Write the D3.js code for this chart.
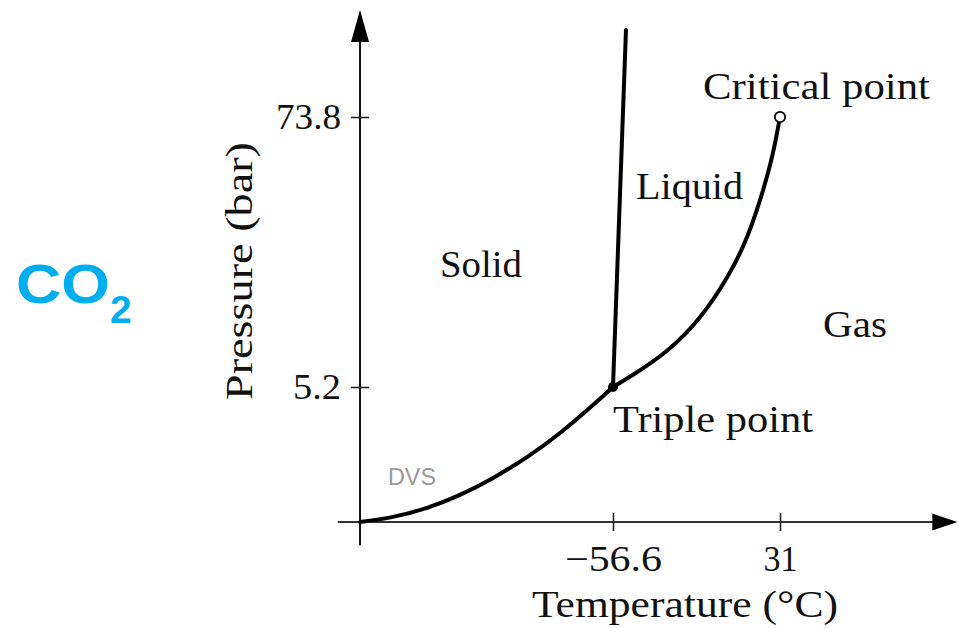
<!DOCTYPE html>
<html><head><meta charset="utf-8">
<script src="https://cdn.jsdelivr.net/npm/d3@7"></script>
<style>body{margin:0;background:#fff}svg{display:block}</style>
</head><body><svg id="c" width="959" height="628"></svg>
<script>
// ---- data ----
const xTickValues = [-56.6, 31];
const xTickLabels = ["\u221256.6", "31"];
const yTickValues = [5.2, 73.8];
const yTickLabels = ["5.2", "73.8"];
// sublimation curve (solid-gas)
const sublimationT = [-189.3, -172.0, -154.2, -136.9, -119.5, -101.7, -84.4, -67.1, -56.6];
const sublimationP = [-29.1, -27.8, -25.5, -22.2, -17.9, -12.6, -6.5, 0.6, 5.2];
// vaporization curve (liquid-gas)
const vaporT = [-56.6, -46.1, -28.3, -11.0, 3.2, 13.7, 22.1, 27.3, 31];
const vaporP = [5.2, 8.3, 14.4, 22.9, 33.0, 43.3, 55.2, 64.7, 73.8];
// melting line (solid-liquid)
const meltingT = [-56.6, -49.8];
const meltingP = [5.2, 95.9];
const triplePoint = [-56.6, 5.2];
const criticalPoint = [31, 73.8];
// axis extents: [start, origin, end]
const axisT = [-201, -189.3, 124];
const axisP = [-35, -29.1, 101];

// ---- layout ----
const svg = d3.select("#c");
const x = d3.scaleLinear().domain([-56.6, 31]).range([613, 780]);
const y = d3.scaleLinear().domain([5.2, 73.8]).range([387, 117]);
const serif = "'Liberation Serif','Times New Roman',serif";
const ink = "#111";

const ox = x(axisT[1]), oy = y(axisP[1]);

// axes lines
svg.append("line").attr("x1", x(axisT[0])).attr("x2", x(axisT[2]) - 20)
  .attr("y1", oy).attr("y2", oy).attr("stroke", "#333").attr("stroke-width", 2);
svg.append("line").attr("x1", ox).attr("x2", ox)
  .attr("y1", y(axisP[0])).attr("y2", y(axisP[2]) + 25).attr("stroke", "#111").attr("stroke-width", 2);
// arrow heads
const xt = x(axisT[2]);
svg.append("path").attr("d", `M${xt},${oy} L${xt-25},${oy-8.5} L${xt-25},${oy+8.5} Z`).attr("fill", "#000");
const yt = y(axisP[2]);
svg.append("path").attr("d", `M${ox},${yt} L${ox-9},${yt+32} L${ox+9},${yt+32} Z`).attr("fill", "#000");

// x ticks
const gx = svg.append("g").attr("transform", `translate(0,${oy - 9})`)
  .call(d3.axisBottom(x).tickValues(xTickValues).tickFormat((d, i) => xTickLabels[i]).tickSize(18));
gx.select(".domain").remove();
gx.selectAll(".tick line").attr("stroke", "#222").attr("stroke-width", 1.6);
const xLen = [97, 34];
gx.selectAll(".tick text").attr("dy", null).attr("y", 571 - (oy - 9))
  .attr("font-family", serif).attr("font-size", 36).attr("fill", ink)
  .attr("textLength", (d, i) => xLen[i]).attr("lengthAdjust", "spacingAndGlyphs");

// y ticks
const gy = svg.append("g").attr("transform", `translate(${ox + 9},0)`)
  .call(d3.axisLeft(y).tickValues(yTickValues).tickFormat((d, i) => yTickLabels[i]).tickSize(18).tickPadding(10));
gy.select(".domain").remove();
gy.selectAll(".tick line").attr("stroke", "#222").attr("stroke-width", 1.6);
const yLen = [48, 65];
gy.selectAll(".tick text").attr("dy", "0.33em")
  .attr("font-family", serif).attr("font-size", 36).attr("fill", ink)
  .attr("textLength", (d, i) => yLen[i]).attr("lengthAdjust", "spacingAndGlyphs");

// curves
const line = d3.line().x(d => x(d[0])).y(d => y(d[1])).curve(d3.curveNatural);
const curve = (T, P) => T.map((t, i) => [t, P[i]]);
[curve(sublimationT, sublimationP), curve(vaporT, vaporP), curve(meltingT, meltingP)].forEach(pts => {
  svg.append("path").attr("d", line(pts)).attr("fill", "none")
    .attr("stroke", "#000").attr("stroke-width", 4).attr("stroke-linecap", "round");
});

// points
svg.append("circle").attr("cx", x(triplePoint[0])).attr("cy", y(triplePoint[1])).attr("r", 5).attr("fill", "#000");
svg.append("circle").attr("cx", x(criticalPoint[0])).attr("cy", y(criticalPoint[1])).attr("r", 5.2)
  .attr("fill", "#fff").attr("stroke", "#000").attr("stroke-width", 1.8);

// labels
const labels = [
  {t: "Critical point", x: 703, y: 99, w: 227},
  {t: "Liquid", x: 636, y: 199, w: 107},
  {t: "Solid", x: 440, y: 277, w: 82},
  {t: "Gas", x: 823, y: 337, w: 64},
  {t: "Triple point", x: 613, y: 432, w: 200},
];
labels.forEach(l => {
  svg.append("text").attr("x", l.x).attr("y", l.y).text(l.t)
    .attr("font-family", serif).attr("font-size", 38).attr("fill", ink)
    .attr("textLength", l.w).attr("lengthAdjust", "spacingAndGlyphs");
});

// axis titles
svg.append("text").attr("x", 685).attr("y", 617).attr("text-anchor", "middle")
  .text("Temperature (°C)").attr("font-family", serif).attr("font-size", 38).attr("fill", ink)
  .attr("textLength", 306).attr("lengthAdjust", "spacingAndGlyphs");
svg.append("text").attr("transform", "translate(252,271) rotate(-90)").attr("text-anchor", "middle")
  .text("Pressure (bar)").attr("font-family", serif).attr("font-size", 38).attr("fill", ink)
  .attr("textLength", 258).attr("lengthAdjust", "spacingAndGlyphs");

// watermark
svg.append("text").attr("x", 388).attr("y", 485).text("DVS")
  .attr("font-family", "'Liberation Sans',Arial,sans-serif").attr("font-size", 24).attr("fill", "#9a9a9a")
  .attr("textLength", 48).attr("lengthAdjust", "spacingAndGlyphs");

// CO2 title
svg.append("text").attr("x", 16).attr("y", 303).text("CO")
  .attr("font-family", "'Liberation Sans',Arial,sans-serif").attr("font-weight", "bold")
  .attr("font-size", 55).attr("fill", "#00aeef")
  .attr("textLength", 94).attr("lengthAdjust", "spacingAndGlyphs");
svg.append("text").attr("x", 110).attr("y", 323).text("2")
  .attr("font-family", "'Liberation Sans',Arial,sans-serif").attr("font-weight", "bold")
  .attr("font-size", 39).attr("fill", "#00aeef");
</script></body></html>
